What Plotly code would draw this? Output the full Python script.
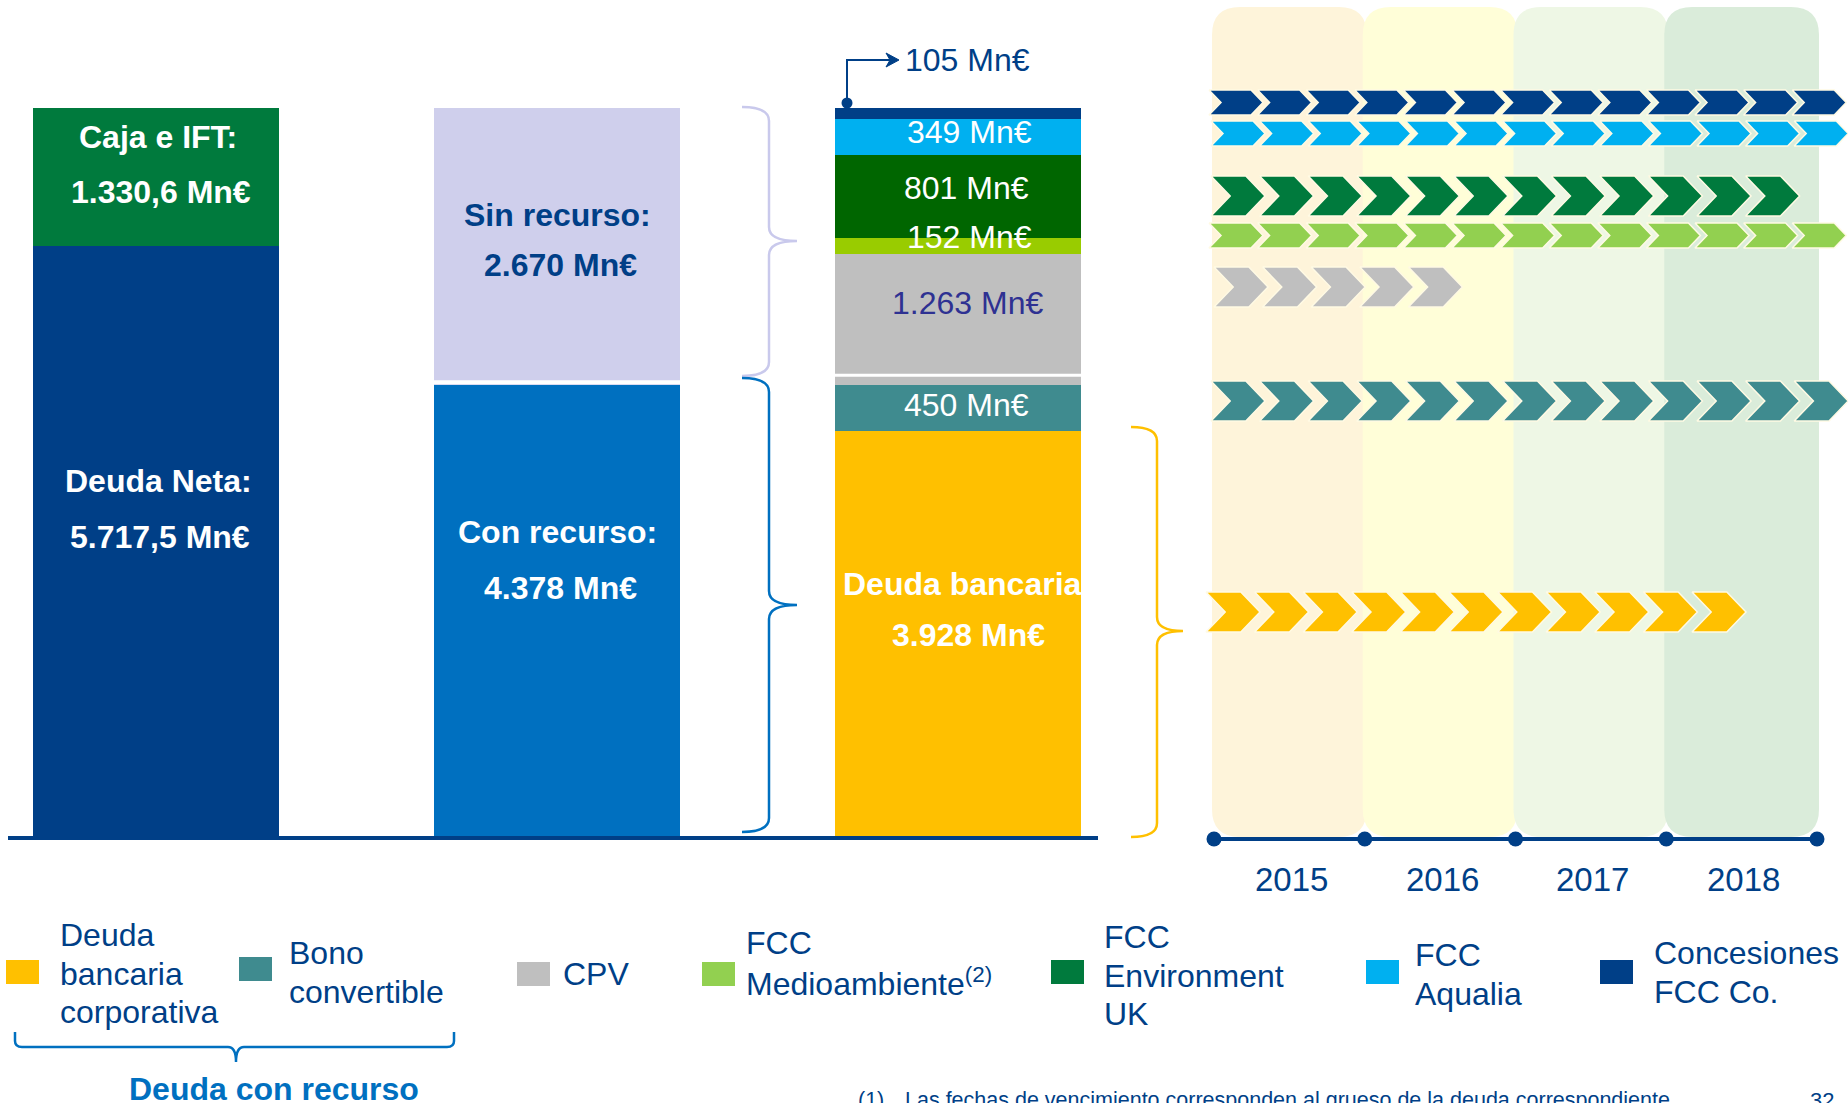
import plotly.graph_objects as go

W, H = 1848, 1103
FONT = "Liberation Sans, Arial, Helvetica, sans-serif"
NAVY = "#003F87"

# ---------------- data ----------------
bar_categories = ["Deuda neta", "Recurso", "Desglose"]
bar1_names = ["Deuda Neta", "Caja e IFT"]
bar1_values = [5717.5, 1330.6]
bar2_names = ["Con recurso", "Sin recurso"]
bar2_values = [4378, 2670]
bar3_names = ["Deuda bancaria corporativa", "Bono convertible", "CPV",
              "FCC Medioambiente", "FCC Environment UK", "FCC Aqualia",
              "Concesiones FCC Co."]
bar3_values = [3928, 450, 1263, 152, 801, 349, 105]
legend_labels = [["Deuda", "bancaria", "corporativa"], ["Bono", "convertible"], ["CPV"],
                 ["FCC", "Medioambiente<sup>(2)</sup>"], ["FCC", "Environment", "UK"],
                 ["FCC", "Aqualia"], ["Concesiones", "FCC Co."]]
years = ["2015", "2016", "2017", "2018"]
chevron_counts = [11, 13, 5, 13, 12, 13, 13]   # same order as bar3_names
footnote = "Las fechas de vencimiento corresponden al grueso de la deuda correspondiente."
page_number = "32"

# ---------------- styles ----------------
bar1_colors = [NAVY, "#007A3D"]
bar2_colors = ["#0070C0", "#CFCFEC"]
bar3_colors = ["#FFC000", "#3F8B8F", "#BFBFBF", "#99CC00", "#006600", "#00B0F0", NAVY]
series_colors = ["#FFC000", "#3F8B8F", "#BFBFBF", "#92D050", "#007A3D", "#00B0F0", NAVY]
column_colors = ["#FEF4DA", "#FFFED8", "#EEF7E5", "#DAECDA"]


def fmt_es(v, dec=0):
    s = f"{v:,.{dec}f}"
    return s.replace(",", "X").replace(".", ",").replace("X", ".")


# scale of the bar chart
BASE_PX, TOP_PX = 838, 108
ppu = (BASE_PX - TOP_PX) / sum(bar1_values)
y_range = [-(H - BASE_PX) / ppu, BASE_PX / ppu]
UNIT, X0PX = 401.0, 156.0
x_range = [-X0PX / UNIT, (W - X0PX) / UNIT]
BAR_W = 246 / UNIT

fig = go.Figure()

for i, (vals, names, cols) in enumerate([(bar1_values, bar1_names, bar1_colors),
                                          (bar2_values, bar2_names, bar2_colors),
                                          (bar3_values, bar3_names, bar3_colors)]):
    for v, n, c in zip(vals, names, cols):
        fig.add_trace(go.Bar(x=[i], y=[v], name=n, width=BAR_W,
                             marker=dict(color=c, line=dict(width=0)),
                             hoverinfo="skip", showlegend=False))

shapes = []
ann = []


def T(x, y, s, size=32, color="white", bold=False, xanchor="center"):
    ann.append(dict(x=x, y=y, xref="x2", yref="y2",
                    text=f"<b>{s}</b>" if bold else s, showarrow=False,
                    xanchor=xanchor, yanchor="middle",
                    font=dict(family=FONT, size=size, color=color)))


def P(path, color, width=2.5, fill=None, layer="above"):
    d = dict(type="path", path=path, xref="x2", yref="y2", layer=layer,
             line=dict(color=color, width=width))
    if fill:
        d["fillcolor"] = fill
    shapes.append(d)


# separators inside bars
shapes.append(dict(type="line", xref="x", yref="y", x0=1 - BAR_W / 2, x1=1 + BAR_W / 2,
                    y0=bar2_values[0] + 22, y1=bar2_values[0] + 22,
                    line=dict(color="white", width=4)))
shapes.append(dict(type="line", xref="x", yref="y", x0=2 - BAR_W / 2, x1=2 + BAR_W / 2,
                    y0=bar2_values[0] + 90, y1=bar2_values[0] + 90,
                    line=dict(color="white", width=3)))
# baseline
shapes.append(dict(type="line", xref="x2", yref="y", x0=8, x1=1098, y0=0, y1=0,
                    line=dict(color=NAVY, width=4)))


# braces
def brace(x0, y0, y1, xv, xt, yt, r=14):
    return (f"M{x0},{y0} Q{xv},{y0} {xv},{y0 + r} L{xv},{yt - r} "
            f"Q{xv},{yt} {xt},{yt} Q{xv},{yt} {xv},{yt + r} "
            f"L{xv},{y1 - r} Q{xv},{y1} {x0},{y1}")


P(brace(742, 107, 376, 769, 797, 241), "#C9C9EC")
P(brace(742, 378, 832, 769, 797, 605), "#0070C0")
P(brace(1131, 427, 837, 1157, 1183, 631), "#FFC000")
# legend bracket
P("M15,1032 L15,1041 Q15,1047 22,1047 L228,1047 Q236,1047 236,1062 "
  "Q236,1047 244,1047 L447,1047 Q454,1047 454,1041 L454,1032", "#0070C0")

# 105 arrow
P("M847,103 L847,60 L890,60", NAVY, width=2)
P("M899,60 L886,53 L890,60 L886,67 Z", NAVY, width=1, fill=NAVY)
fig.add_trace(go.Scatter(x=[847], y=[103], xaxis="x2", yaxis="y2", mode="markers",
                         marker=dict(size=11, color=NAVY), hoverinfo="skip", showlegend=False))

# timeline columns
TL_X0, TL_PPY = 1214, 150.75


def year_px(k):
    return TL_X0 + k * TL_PPY


def rrect(x0, y0, x1, y1, r):
    return (f"M{x0 + r},{y0} L{x1 - r},{y0} Q{x1},{y0} {x1},{y0 + r} L{x1},{y1 - r} "
            f"Q{x1},{y1} {x1 - r},{y1} L{x0 + r},{y1} Q{x0},{y1} {x0},{y1 - r} "
            f"L{x0},{y0 + r} Q{x0},{y0} {x0 + r},{y0} Z")


for k, c in enumerate(column_colors):
    shapes.append(dict(type="path", xref="x2", yref="y2", layer="below",
                       path=rrect(year_px(k) - 2, 7, year_px(k + 1) + 2, 837, 28),
                       fillcolor=c, line=dict(width=0)))

# chevron rows (bar3 order)
row_y = [612, 401, 287, 235.5, 196, 133.5, 102.5]
row_h = [40, 40, 40, 25, 40, 25, 25]
row_x0 = [1206, 1211, 1214, 1209, 1211, 1211, 1209]
PITCH, LEN = 48.6, 54.0
for n, c, yc, h, x0 in zip(chevron_counts, series_colors, row_y, row_h, row_x0):
    d = h * 0.48
    body = LEN - d
    yt, yb = yc - h / 2, yc + h / 2
    xs, ys = [], []
    for i in range(n):
        x = x0 + i * PITCH
        xs += [x, x + body, x + LEN, x + body, x, x + d, x, None]
        ys += [yt, yt, yc, yb, yb, yc, yt, None]
    fig.add_trace(go.Scatter(x=xs, y=ys, xaxis="x2", yaxis="y2", mode="lines",
                             fill="toself", fillcolor=c,
                             line=dict(color="rgba(255,250,228,1)", width=1.5),
                             hoverinfo="skip", showlegend=False))

# timeline axis
fig.add_trace(go.Scatter(x=[year_px(k) for k in range(len(years) + 1)],
                         y=[839] * (len(years) + 1), xaxis="x2", yaxis="y2",
                         mode="lines+markers", line=dict(color=NAVY, width=4),
                         marker=dict(size=15, color=NAVY), hoverinfo="skip", showlegend=False))
for k, yr in enumerate(years):
    T((year_px(k) + year_px(k + 1)) / 2 + 2, 879, yr, size=33, color=NAVY)

# bar labels
T(158, 137, bar1_names[1] + ":", bold=True)
T(161, 192, fmt_es(bar1_values[1], 1) + " Mn€", bold=True)
T(158, 481, bar1_names[0] + ":", bold=True)
T(160, 537, fmt_es(bar1_values[0], 1) + " Mn€", bold=True)
T(557, 215, bar2_names[1] + ":", bold=True, color=NAVY)
T(560, 265, fmt_es(bar2_values[1]) + " Mn€", bold=True, color=NAVY)
T(557, 532, bar2_names[0] + ":", bold=True)
T(560, 588, fmt_es(bar2_values[0]) + " Mn€", bold=True)

T(903, 60, fmt_es(bar3_values[6]) + " Mn€", color=NAVY, xanchor="left")
T(969, 132, fmt_es(bar3_values[5]) + " Mn€")
T(966, 188, fmt_es(bar3_values[4]) + " Mn€")
T(969, 237, fmt_es(bar3_values[3]) + " Mn€")
T(967, 303, fmt_es(bar3_values[2]) + " Mn€", color="#2E3192")
T(966, 405, fmt_es(bar3_values[1]) + " Mn€")
T(962, 584, "Deuda bancaria", bold=True)
T(968, 635, fmt_es(bar3_values[0]) + " Mn€", bold=True)

# legend
leg_sq_x = [6, 239, 517, 702, 1051, 1366, 1600]
leg_sq_y = [972, 969, 974, 974, 972, 972, 972]
leg_tx_x = [58, 287, 561, 744, 1102, 1413, 1652]
leg_tx_y = [935, 953, 974, 943, 937, 955, 953]
for lab, c, sx, sy, tx, ty in zip(legend_labels, series_colors, leg_sq_x, leg_sq_y,
                                  leg_tx_x, leg_tx_y):
    shapes.append(dict(type="rect", xref="x2", yref="y2", x0=sx, x1=sx + 33,
                       y0=sy - 12, y1=sy + 12, fillcolor=c, line=dict(width=0)))
    for j, line in enumerate(lab):
        T(tx, ty + j * 38.5, line, color=NAVY, xanchor="left")

T(274, 1089, "Deuda con recurso", bold=True, color="#0070C0")
T(856, 1100, "(1)", size=21.5, color=NAVY, xanchor="left")
T(903, 1100, footnote, size=21.5, color=NAVY, xanchor="left")
T(1808, 1100, page_number, size=22, color=NAVY, xanchor="left")

fig.update_layout(
    width=W, height=H, margin=dict(l=0, r=0, t=0, b=0),
    paper_bgcolor="white", plot_bgcolor="rgba(0,0,0,0)",
    barmode="stack", bargap=0, showlegend=False,
    xaxis=dict(range=x_range, visible=False, fixedrange=True),
    yaxis=dict(range=y_range, visible=False, fixedrange=True),
    xaxis2=dict(range=[0, W], overlaying="x", anchor="y2", visible=False, fixedrange=True),
    yaxis2=dict(range=[H, 0], overlaying="y", anchor="x2", visible=False, fixedrange=True),
    shapes=shapes, annotations=ann,
)

fig.write_html("out.html", config={"displayModeBar": False},
               post_script="document.body.style.margin='0px';document.body.style.overflow='hidden';")
